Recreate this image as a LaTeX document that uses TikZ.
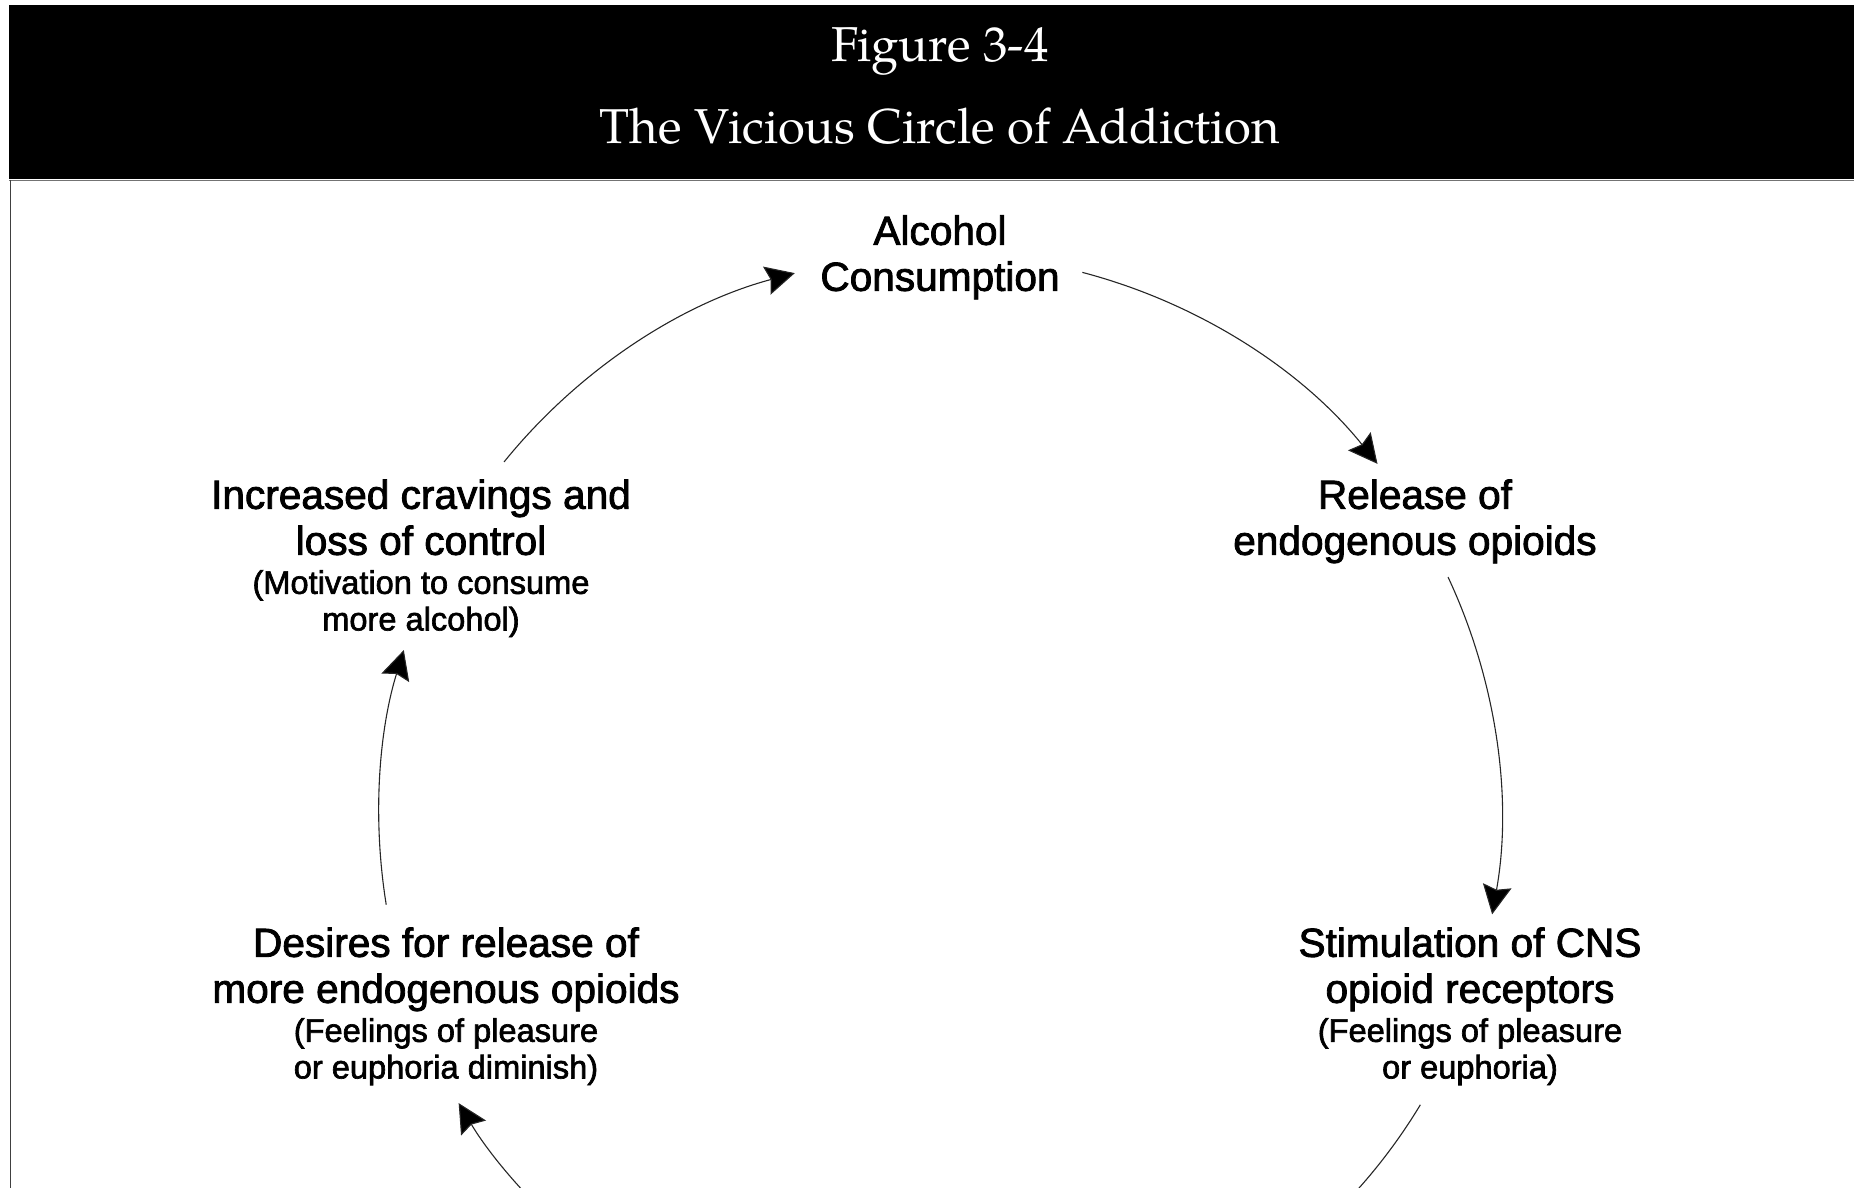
\documentclass[tikz,border=0pt]{standalone}
\usepackage{fontspec}
\setmainfont{Liberation Sans}
\newfontfamily\labelfont[FakeBold=2]{Liberation Sans}
\newfontfamily\titlefont{texgyrepagella-regular.otf}
\usetikzlibrary{arrows.meta}
\newcommand\sublinefont{\fontsize{16.3}{23}\selectfont}
\begin{document}
\begin{tikzpicture}[x=0.5pt,y=-0.5pt,
  lbl/.style={align=center, inner sep=0pt, anchor=north, font=\labelfont\fontsize{20.3}{23}\selectfont},
  ttl/.style={text=white, anchor=base, inner sep=0pt, font=\titlefont\fontsize{24.5}{28}\selectfont},
  arr/.style={line width=0.55pt, draw=black!85, -{Stealth[length=14.5pt,width=14.5pt,inset=2pt,fill=black]}},
  plainarc/.style={line width=0.55pt, draw=black!85}]
\useasboundingbox (0,0) rectangle (1854,1188);
\clip (0,0) rectangle (1854,1188);
% header band and frame
\fill[black] (9,5) rectangle (1854,179.5);
\draw[black!55, line width=0.9pt] (9,180.5) -- (1854,180.5);
\draw[black!75, line width=0.9pt] (10.5,180) -- (10.5,1188);
\node[ttl] (fig) at (940,62) {Figure 3-4};
\node[ttl] (title) at (940,143.5) {The Vicious Circle of Addiction};
% labels
\node[lbl] (alc) at (940,215) {Alcohol\\Consumption};
\node[lbl] (rel) at (1415,479) {Release of\\endogenous opioids};
\node[lbl] (stim) at (1470,927) {Stimulation of CNS\\opioid receptors\\[-3.5pt]{\sublinefont (Feelings of pleasure}\\[-4.7pt]{\sublinefont or euphoria)}};
\node[lbl] (des) at (446,927) {Desires for release of\\more endogenous opioids\\[-3.5pt]{\sublinefont (Feelings of pleasure}\\[-4.7pt]{\sublinefont or euphoria diminish)}};
\node[lbl] (inc) at (421,479) {Increased cravings and\\loss of control\\[-3.5pt]{\sublinefont (Motivation to consume}\\[-4.7pt]{\sublinefont more alcohol)}};
% circle of arrows
\coordinate (O) at (940,815);
\path (O) ++(75.3:280.5pt) coordinate (a1s);
\path (O) ++(25.1:280.5pt) coordinate (a2s);
\path (O) ++(-31.1:280.5pt) coordinate (a3s);
\path (O) ++(-130:280.5pt) coordinate (a4s);
\path (O) ++(189.2:280.5pt) coordinate (a5s);
\path (O) ++(141:280.5pt) coordinate (a6s);
\draw[arr] (a1s) arc[start angle=75.3, end angle=38.75, radius=280.5pt];
\draw[arr] (a2s) arc[start angle=25.1, end angle=-10.2, radius=280.5pt];
\draw[plainarc] (a3s) arc[start angle=-31.1, end angle=-50, radius=280.5pt];
\draw[arr] (a4s) arc[start angle=-130, end angle=-149.1, radius=280.5pt];
\draw[arr] (a5s) arc[start angle=189.2, end angle=162.9, radius=280.5pt];
\draw[arr] (a6s) arc[start angle=141, end angle=105, radius=280.5pt];
\end{tikzpicture}
\end{document}
